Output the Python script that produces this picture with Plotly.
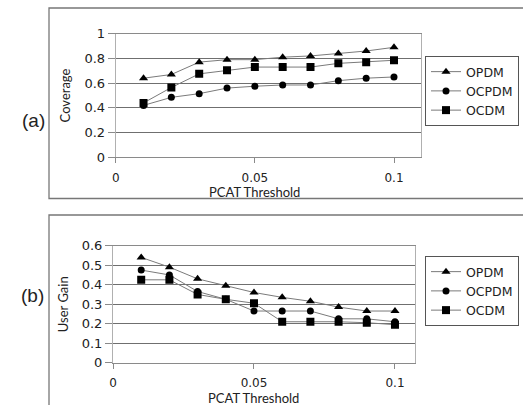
import plotly.graph_objects as go

thresholds = [0.01, 0.02, 0.03, 0.04, 0.05, 0.06, 0.07, 0.08, 0.09, 0.10]

cov_opdm = [0.64, 0.67, 0.77, 0.79, 0.79, 0.81, 0.82, 0.84, 0.86, 0.89]
cov_ocpdm = [0.42, 0.485, 0.515, 0.56, 0.575, 0.585, 0.585, 0.62, 0.64, 0.65]
cov_ocdm = [0.44, 0.565, 0.675, 0.705, 0.73, 0.73, 0.73, 0.76, 0.77, 0.785]

gain_opdm = [0.54, 0.49, 0.43, 0.395, 0.36, 0.335, 0.315, 0.285, 0.265, 0.265]
gain_ocpdm = [0.475, 0.45, 0.365, 0.325, 0.265, 0.265, 0.265, 0.225, 0.225, 0.21]
gain_ocdm = [0.425, 0.425, 0.35, 0.325, 0.305, 0.21, 0.21, 0.21, 0.205, 0.195]

series_names = ["OPDM", "OCPDM", "OCDM"]
symbols = ["triangle-up", "circle", "square"]

x_ticks = [0, 0.05, 0.1]
x_ticklabels = ["0", "0.05", "0.1"]
cov_ticks = [0, 0.2, 0.4, 0.6, 0.8, 1]
cov_ticklabels = ["0", "0.2", "0.4", "0.6", "0.8", "1"]
gain_ticks = [0, 0.1, 0.2, 0.3, 0.4, 0.5, 0.6]
gain_ticklabels = ["0", "0.1", "0.2", "0.3", "0.4", "0.5", "0.6"]
x_title = "PCAT Threshold"

W, H = 523, 405
fig = go.Figure()

LINE_COLOR = "#7a7a7a"
XTICK_FONT = dict(family="DejaVu Sans", size=12, color="#222")
YTICK_FONT = dict(family="DejaVu Sans", size=13, color="#222")
TITLE_FONT = dict(family="Lato", size=13, color="#222")
LEG_FONT = dict(family="DejaVu Sans", size=12.5, color="#222")

for vals, name, sym in zip([cov_opdm, cov_ocpdm, cov_ocdm], series_names, symbols):
    fig.add_trace(go.Scatter(
        x=thresholds, y=vals, name=name, mode="lines+markers",
        line=dict(color=LINE_COLOR, width=1),
        marker=dict(symbol=sym, size=8 if sym != "circle" else 7, color="black"),
        xaxis="x", yaxis="y", legend="legend"))

for vals, name, sym in zip([gain_opdm, gain_ocpdm, gain_ocdm], series_names, symbols):
    fig.add_trace(go.Scatter(
        x=thresholds, y=vals, name=name, mode="lines+markers",
        line=dict(color=LINE_COLOR, width=1),
        marker=dict(symbol=sym, size=8 if sym != "circle" else 7, color="black"),
        xaxis="x2", yaxis="y2", legend="legend2"))

def px_x(p):
    return p / W

def px_y(p):
    return 1 - p / H

common_x = dict(
    tickvals=x_ticks, ticktext=x_ticklabels, showgrid=False, zeroline=False,
    showline=True, linecolor="#8a8a8a", linewidth=1, mirror=True,
    ticks="outside", ticklen=5, tickcolor="#8a8a8a", tickfont=XTICK_FONT,
    ticklabelstandoff=4, automargin=False,
)
common_y = dict(
    showgrid=True, gridcolor="#6f6f6f", gridwidth=1, zeroline=False,
    showline=True, linecolor="#b0b0b0", linewidth=1, mirror=True,
    ticks="outside", ticklen=7, tickcolor="#8a8a8a", tickfont=YTICK_FONT,
    automargin=False,
)

leg_common = dict(xanchor="right", yanchor="top",
                  bordercolor="#555", borderwidth=1, bgcolor="white",
                  font=LEG_FONT, itemwidth=30, tracegroupgap=0)

fig.update_layout(
    width=W, height=H, margin=dict(l=0, r=0, t=0, b=0, autoexpand=False),
    paper_bgcolor="white", plot_bgcolor="white",
    xaxis=dict(common_x, domain=[px_x(115.7), px_x(421)], range=[0, 0.1097], anchor="y"),
    yaxis=dict(common_y, domain=[px_y(157.3), px_y(33.7)], range=[0, 1],
               tickvals=cov_ticks, ticktext=cov_ticklabels, anchor="x",
               title=dict(text="Coverage", font=TITLE_FONT, standoff=10)),
    xaxis2=dict(common_x, domain=[px_x(113), px_x(415)], range=[0, 0.1071], anchor="y2"),
    yaxis2=dict(common_y, domain=[px_y(362.7), px_y(245.7)], range=[0, 0.6],
                tickvals=gain_ticks, ticktext=gain_ticklabels, anchor="x2",
                title=dict(text="User Gain", font=TITLE_FONT, standoff=10)),
    legend=dict(leg_common, x=px_x(519), y=px_y(56)),
    legend2=dict(leg_common, x=px_x(519), y=px_y(256)),
    showlegend=True,
)

# x-axis titles placed under the tick labels
fig.add_annotation(text=x_title, xref="x", yref="paper", x=0.05, y=px_y(192),
                   yanchor="middle", showarrow=False, font=TITLE_FONT)
fig.add_annotation(text=x_title, xref="x2", yref="paper", x=0.05, y=px_y(397.5),
                   yanchor="middle", showarrow=False, font=TITLE_FONT)

# outer chart frames
fig.add_shape(type="rect", xref="paper", yref="paper",
              x0=px_x(49), x1=px_x(530), y0=px_y(198.5), y1=px_y(8),
              line=dict(color="#777", width=1.3), layer="below")
fig.add_shape(type="rect", xref="paper", yref="paper",
              x0=px_x(49), x1=px_x(530), y0=px_y(420), y1=px_y(215),
              line=dict(color="#777", width=1.3), layer="below")

fig.add_annotation(text="(a)", xref="paper", yref="paper", x=px_x(20), y=px_y(108),
                   showarrow=False, font=dict(family="Liberation Sans", size=19, color="#222"))
fig.add_annotation(text="(b)", xref="paper", yref="paper", x=px_x(19), y=px_y(308),
                   showarrow=False, font=dict(family="Liberation Sans", size=19, color="#222"))

fig.write_html("out.html", config={"displayModeBar": False},
               post_script="document.body.style.margin='0';document.body.style.padding='0';")
